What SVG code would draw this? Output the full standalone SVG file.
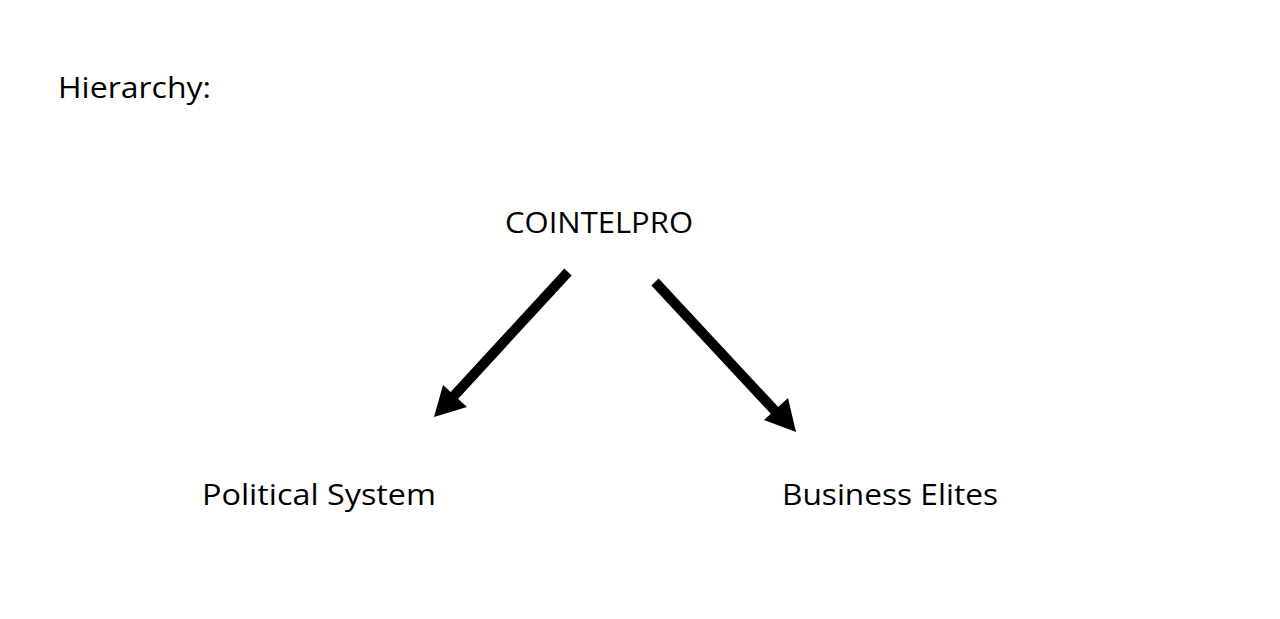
<svg xmlns="http://www.w3.org/2000/svg" width="1280" height="619" viewBox="0 0 1280 619">
<style>
.t{font-family:"Open Sans","Noto Sans","Liberation Sans",sans-serif;font-size:30px;fill:#000}
.c{stroke:#000;stroke-width:10;fill:none}
.h{fill:#000;stroke:none}
</style>
<rect width="1280" height="619" fill="#fff"/>
<g id="title"><text class="t" x="58" y="98" textLength="153" lengthAdjust="spacingAndGlyphs">Hierarchy:</text></g>
<g id="cointelpro"><text class="t" x="505" y="233" textLength="188" lengthAdjust="spacingAndGlyphs">COINTELPRO</text></g>
<g id="political"><text class="t" x="202" y="505" textLength="234" lengthAdjust="spacingAndGlyphs">Political System</text></g>
<g id="business"><text class="t" x="782" y="505" textLength="216" lengthAdjust="spacingAndGlyphs">Business Elites</text></g>
<g id="connectors">
<line class="c" x1="568" y1="272" x2="452" y2="398"/>
<polygon class="h" points="434,417 443,385 467,407"/>
<line class="c" x1="655" y1="282" x2="777" y2="413"/>
<polygon class="h" points="796,432 764,420 788,398"/>
</g>
</svg>
